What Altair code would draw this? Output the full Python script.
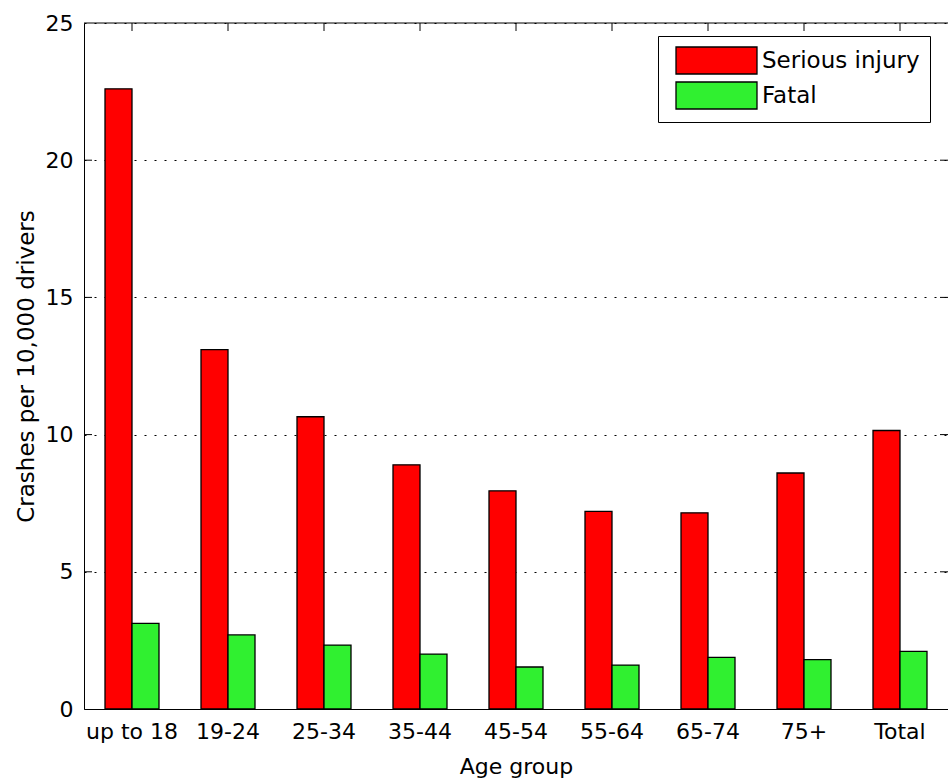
import altair as alt
import pandas as pd

ages = ["up to 18", "19-24", "25-34", "35-44", "45-54", "55-64", "65-74", "75+", "Total"]
serious = [22.6, 13.1, 10.65, 8.9, 7.95, 7.2, 7.15, 8.6, 10.15]
fatal = [3.12, 2.7, 2.33, 2.0, 1.53, 1.6, 1.88, 1.8, 2.1]
series_names = ["Serious injury", "Fatal"]
series_colors = ["#ff0000", "#30f030"]
y_ticks = [0, 5, 10, 15, 20, 25]
inner_ticks = [5, 10, 15, 20]

rows = []
for a, s, f in zip(ages, serious, fatal):
    rows.append({"age": a, "series": series_names[0], "value": s})
    rows.append({"age": a, "series": series_names[1], "value": f})
bars_df = pd.DataFrame(rows)

W, H = 864, 686
FONT = "DejaVu Sans"

x_scale = alt.Scale(domain=ages, paddingInner=0.4375, paddingOuter=0.21875)
y_scale = alt.Scale(domain=[0, 25], nice=False, zero=True)

bars = alt.Chart(bars_df).mark_bar(stroke="black", strokeWidth=1.3).encode(
    x=alt.X("age:N", scale=x_scale, sort=ages, title="Age group",
            axis=alt.Axis(labelAngle=0, ticks=False, domain=True, domainColor="black",
                          domainWidth=1, labelPadding=12, labelFontSize=22, labelFont=FONT,
                          labelColor="black", grid=False, titleFontSize=22, titleFont=FONT,
                          titleFontWeight="normal", titleColor="black", titleY=64,
                          titleBaseline="alphabetic")),
    xOffset=alt.XOffset("series:N", sort=series_names,
                        scale=alt.Scale(domain=series_names, paddingInner=0, paddingOuter=0)),
    y=alt.Y("value:Q", scale=y_scale, title="Crashes per 10,000 drivers",
            axis=alt.Axis(values=y_ticks, ticks=False, domain=True, domainColor="black",
                          domainWidth=1, labelPadding=11, labelFontSize=22, labelFont=FONT,
                          labelColor="black", grid=True, gridColor="black", gridDash=[2, 8],
                          gridWidth=1, gridOpacity=1, titleFontSize=23, titleFont=FONT,
                          titleFontWeight="normal", titleColor="black", titleX=-51,
                          titleBaseline="alphabetic")),
    color=alt.Color("series:N", scale=alt.Scale(domain=series_names, range=series_colors),
                    legend=alt.Legend(orient="none", legendX=574, legendY=13, title=None,
                                      symbolType="M-3,-1H3V1H-3Z", symbolSize=729,
                                      symbolStrokeColor="black", symbolStrokeWidth=1.3,
                                      symbolOffset=34, labelOffset=31, labelFontSize=23,
                                      labelFont=FONT, labelColor="black", padding=10,
                                      rowPadding=2, strokeColor="black", fillColor="white",
                                      cornerRadius=0, symbolOpacity=1,
                                      labelBaseline="middle")),
)

tick_df = pd.DataFrame({"v": inner_ticks})
left_ticks = alt.Chart(tick_df).mark_rule(color="black", strokeWidth=1).encode(
    y=alt.Y("v:Q", scale=y_scale, title="Crashes per 10,000 drivers"),
    x=alt.value(0), x2=alt.value(8))
right_ticks = alt.Chart(tick_df).mark_rule(color="black", strokeWidth=1).encode(
    y=alt.Y("v:Q", scale=y_scale, title="Crashes per 10,000 drivers"),
    x=alt.value(W - 8), x2=alt.value(W))
top_ticks = alt.Chart(pd.DataFrame({"age": ages})).mark_rule(color="black", strokeWidth=1).encode(
    x=alt.X("age:N", scale=x_scale, sort=ages, title="Age group", bandPosition=0.5),
    y=alt.value(0), y2=alt.value(8))
top_border = alt.Chart(pd.DataFrame({"v": [25]})).mark_rule(color="black", strokeWidth=1).encode(
    y=alt.Y("v:Q", scale=y_scale, title="Crashes per 10,000 drivers"),
    x=alt.value(0), x2=alt.value(W))

chart = alt.layer(bars, top_border, left_ticks, right_ticks, top_ticks).properties(
    width=W, height=H,
    autosize=alt.AutoSizeParams(type="none"),
    padding={"left": 84, "top": 23, "right": 0, "bottom": 72},
    background="white",
).configure_view(stroke=None)

chart.save("out.html", embed_options={"renderer": "svg", "actions": False})
